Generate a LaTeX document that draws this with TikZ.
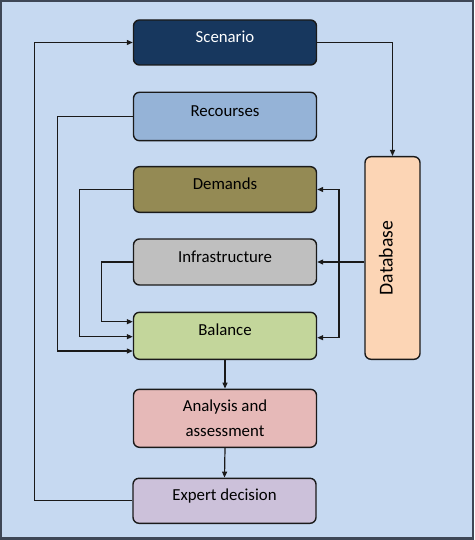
\documentclass[tikz,border=0pt]{standalone}
\usepackage{fontspec}
\setmainfont{Carlito}
\usetikzlibrary{arrows.meta,calc}
\definecolor{bgblue}{HTML}{C6D9F1}
\definecolor{framec}{HTML}{3E4756}
\definecolor{scenc}{HTML}{17375E}
\definecolor{recc}{HTML}{95B3D7}
\definecolor{demc}{HTML}{948A54}
\definecolor{infc}{HTML}{BFBFBF}
\definecolor{balc}{HTML}{C3D69B}
\definecolor{anac}{HTML}{E6B9B8}
\definecolor{expc}{HTML}{CCC1DA}
\definecolor{dbc}{HTML}{FCD5B5}
\definecolor{linec}{HTML}{1A1A1A}
\tikzset{
  boxst/.style={draw=linec, line width=1.4pt, rounded corners=6pt,
    minimum width=183pt, inner sep=0pt, text height=12pt, text depth=12pt,
    font=\fontsize{16.8}{20}\selectfont, text=black},
  conn/.style={draw=linec, line width=1.2pt, -{Triangle[length=6pt,width=5pt]}},
  plainline/.style={draw=linec, line width=1.2pt}
}
\begin{document}
\begin{tikzpicture}[x=1pt,y=-1pt]
\useasboundingbox (0,0) rectangle (474,540);
\fill[framec] (0,0) rectangle (474,540);
\fill[bgblue] (2.3,2.5) rectangle (471.7,536.5);

\node[boxst, fill=scenc, text=white, minimum height=45pt] (scen) at (225,42.5) {Scenario};
\node[boxst, fill=recc, minimum height=48.4pt] (rec) at (225,116.5) {Recourses};
\node[boxst, fill=demc, minimum height=45.6pt] (dem) at (225,189.5) {Demands};
\node[boxst, fill=infc, minimum height=46pt] (inf) at (225,262) {Infrastructure};
\node[boxst, fill=balc, minimum height=47pt] (bal) at (225,335.8) {Balance};
\node[boxst, fill=anac, minimum height=58pt, text height=, text depth=, align=center,
      font=\fontsize{16.8}{24.4}\selectfont] (ana) at (225,418.3) {Analysis and\\assessment};
\node[boxst, fill=expc, minimum height=45pt] (exp) at (224.5,500.8) {Expert decision};
\node[boxst, fill=dbc, minimum width=202.6pt, minimum height=55pt, rotate=90,
      text height=14pt, text depth=14pt, font=\fontsize{19.7}{22}\selectfont] (db) at (392.5,258) {Database};

% Scenario -> Database (rotated node: east anchor is its top)
\draw[conn] (scen.east) -| (db.east);
% feedback loop
\coordinate (lp) at (34.7,501);
\draw[conn] (exp.west) -- (exp.west -| lp) |- (scen.west);
% inputs to Balance
\coordinate (xr) at (57.7,0);
\coordinate (xd) at (79.3,0);
\coordinate (xi) at (101.7,0);
\draw[conn] (rec.west) -- (rec.west -| xr) |- ($(bal.west)+(0,15.2)$);
\draw[conn] (dem.west) -- (dem.west -| xd) |- ($(bal.west)+(0,0.9)$);
\draw[conn] (inf.west) -- (inf.west -| xi) |- ($(bal.west)+(0,-14.1)$);
% Database branches (rotated node: north anchor is its left side)
\coordinate (j) at (339,262);
\draw[conn] (db.north |- inf.east) -- (inf.east);
\draw[conn] (j) |- (dem.east);
\draw[conn] (j) |- ($(bal.east)+(0,1.9)$);
% chain
\draw[conn] (bal.south) -- (ana.north);
\draw[conn] (ana.south) -- (exp.north);
\end{tikzpicture}
\end{document}
